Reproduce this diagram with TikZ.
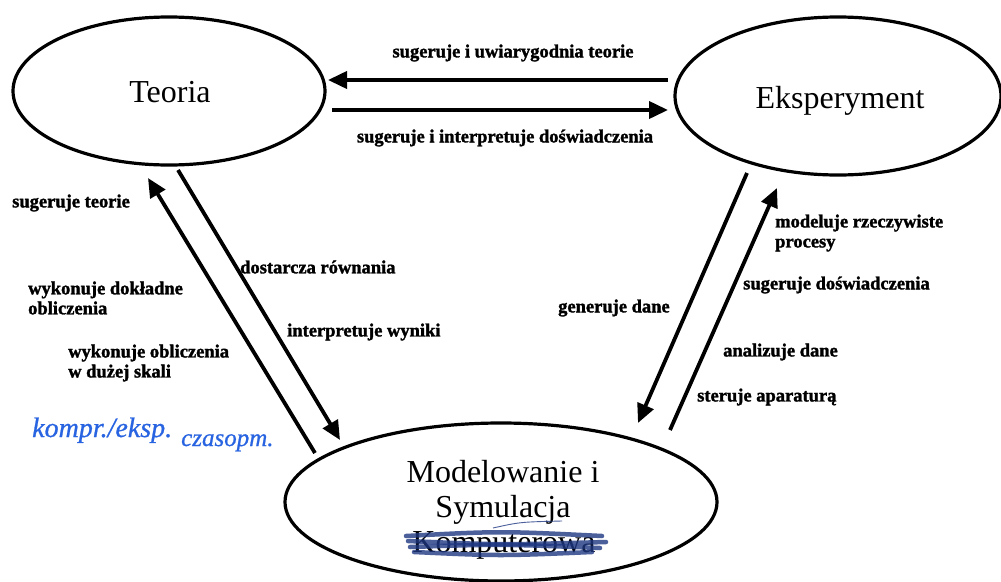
\documentclass[tikz,border=0pt]{standalone}
\usepackage{fontspec}
\setmainfont{Liberation Serif}
\newfontfamily\lblfont[BoldFeatures={FakeBold=1.6}]{Liberation Serif}
\newfontfamily\handfont[ItalicFeatures={FakeBold=0.8}]{Liberation Serif}
\usetikzlibrary{shapes.geometric,arrows.meta}
\definecolor{pen}{RGB}{40,100,225}
\definecolor{scrib}{RGB}{30,55,130}
\begin{document}
\begin{tikzpicture}[x=1pt,y=-1pt,
  oval/.style={draw, ellipse, line width=3.2pt, inner sep=0pt},
  big/.style={font=\fontsize{32}{36}\selectfont, inner sep=0pt, anchor=base},
  lbl/.style={font=\lblfont\bfseries\fontsize{18.5}{20}\selectfont, inner sep=0pt, align=left},
  arr/.style={line width=3.8pt, -{Triangle[length=19pt,width=17pt]}},
  hand/.style={text=pen, inner sep=0pt, anchor=base west},
  strk/.style={draw=scrib, line width=4.5pt, opacity=0.8, line cap=round}]
\useasboundingbox (0,0) rectangle (1001,581);
\fill[white] (0,0) rectangle (1001,581);

% ovals
\node[oval, minimum width=312pt, minimum height=148pt] (teo) at (169,91) {};
\node[oval, minimum width=326pt, minimum height=158pt] (eks) at (838,96) {};
\node[oval, minimum width=432pt, minimum height=158pt] (mod) at (501,502) {};

\node[big] (teot) at (170,102) {Teoria};
\node[big] (ekst) at (840,108) {Eksperyment};
\node[big] (m1) at (503,482) {Modelowanie i};
\node[big] (m2) at (503,517) {Symulacja};
\node[big] (m3) at (504,552) {Komputerowa};

% scribble over Komputerowa
\draw[strk] (406,536) .. controls (500,531) .. (602,536);
\draw[strk] (408,541) .. controls (500,545) .. (606,542);
\draw[strk] (410,547) .. controls (500,544) .. (600,548);
\draw[strk] (414,552) .. controls (500,556) .. (592,552);
\draw[draw=scrib, line width=0.9pt, opacity=0.8] (493,528) .. controls (520,522) .. (562,521);

% arrow end coordinates
\coordinate (a1s) at (668,80);  \coordinate (a1e) at (328,80);
\coordinate (a2s) at (332,110); \coordinate (a2e) at (668,110);
\coordinate (a3s) at (315,453); \coordinate (a3e) at (148,178);
\coordinate (a4s) at (178,170); \coordinate (a4e) at (340,440);
\coordinate (a5s) at (747,173); \coordinate (a5e) at (638,423);
\coordinate (a6s) at (670,430); \coordinate (a6e) at (777,188);

\draw[arr] (a1s) -- (a1e);
\draw[arr] (a2s) -- (a2e);
\draw[arr] (a3s) -- (a3e);
\draw[arr] (a4s) -- (a4e);
\draw[arr] (a5s) -- (a5e);
\draw[arr] (a6s) -- (a6e);

% labels
\node[lbl] (l1) at (513,53) {sugeruje i uwiarygodnia teorie};
\node[lbl] (l2) at (505,138) {sugeruje i interpretuje doświadczenia};
\node[lbl, anchor=west] (l3) at (12,203) {sugeruje teorie};
\node[lbl, anchor=west] (l4) at (240,267) {dostarcza równania};
\node[lbl, anchor=west] (l5) at (287,332) {interpretuje wyniki};
\node[lbl, anchor=west] (l6) at (28,298) {wykonuje dokładne\\obliczenia};
\node[lbl, anchor=west] (l7) at (68,363) {wykonuje obliczenia\\w dużej skali};
\node[lbl, anchor=west] (l8) at (775,233) {modeluje rzeczywiste\\procesy};
\node[lbl, anchor=west] (l9) at (743,285) {sugeruje doświadczenia};
\node[lbl, anchor=west] (l10) at (558,308) {generuje dane};
\node[lbl, anchor=west] (l11) at (723,352) {analizuje dane};
\node[lbl, anchor=west] (l12) at (697,397) {steruje aparaturą};

% handwriting
\node[hand, font=\handfont\itshape\fontsize{28}{30}\selectfont] (h1) at (32,437) {kompr./eksp.};
\node[hand, font=\handfont\itshape\fontsize{25}{28}\selectfont] (h2) at (181,446) {czasopm.};
\end{tikzpicture}
\end{document}
